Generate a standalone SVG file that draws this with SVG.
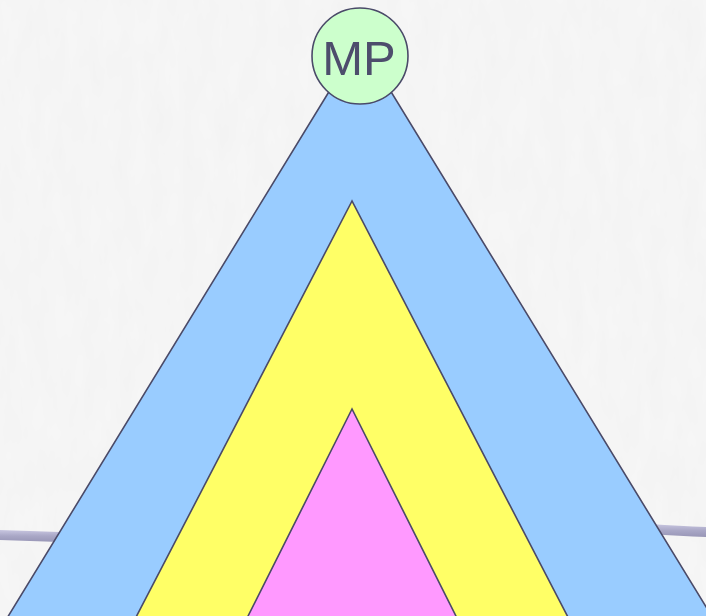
<svg xmlns="http://www.w3.org/2000/svg" width="706" height="616" viewBox="0 0 706 616">
  <defs>
    <filter id="paper" x="0" y="0" width="100%" height="100%">
      <feTurbulence type="fractalNoise" baseFrequency="0.06 0.02" numOctaves="3" seed="4" result="n"/>
      <feColorMatrix type="matrix" values="0 0 0 0 0.88  0 0 0 0 0.88  0 0 0 0 0.88  0 0 0 0.9 -0.2" in="n"/>
    </filter>
    <linearGradient id="beam" x1="0" y1="0" x2="0" y2="1">
      <stop offset="0" stop-color="#c8c6e0"/>
      <stop offset="0.5" stop-color="#a9a7c6"/>
      <stop offset="1" stop-color="#9896b6"/>
    </linearGradient>
    <style>
      .layer { stroke: #4a4a68; stroke-width: 1.6; stroke-linejoin: miter; }
      .label { font-family: "Liberation Sans", Arial, sans-serif; font-size: 49px; fill: #4d4d6c; text-anchor: middle; }
    </style>
  </defs>
  <rect x="0" y="0" width="706" height="616" fill="#f6f6f6"/>
  <rect x="0" y="0" width="706" height="616" filter="url(#paper)"/>
  <g id="connectors">
    <path d="M0 530 Q30 531 60 532 L60 542 Q30 541 0 540 Z" fill="url(#beam)"/>
    <path d="M650 524 Q680 526 706 527 L706 537 Q680 536 650 534 Z" fill="url(#beam)"/>
  </g>
  <g id="outer">
    <polygon class="layer" points="360,41 -10,646 730,646" fill="#99ccff"/>
  </g>
  <g id="middle">
    <polygon class="layer" points="352,201 120,648 584,648" fill="#ffff66"/>
  </g>
  <g id="inner">
    <polygon class="layer" points="352,409 232,648 472,648" fill="#ff99ff"/>
  </g>
  <g id="mp">
    <circle class="layer" cx="360" cy="56" r="48" fill="#ccffcc"/>
    <text class="label" x="359" y="75">MP</text>
  </g>
</svg>
